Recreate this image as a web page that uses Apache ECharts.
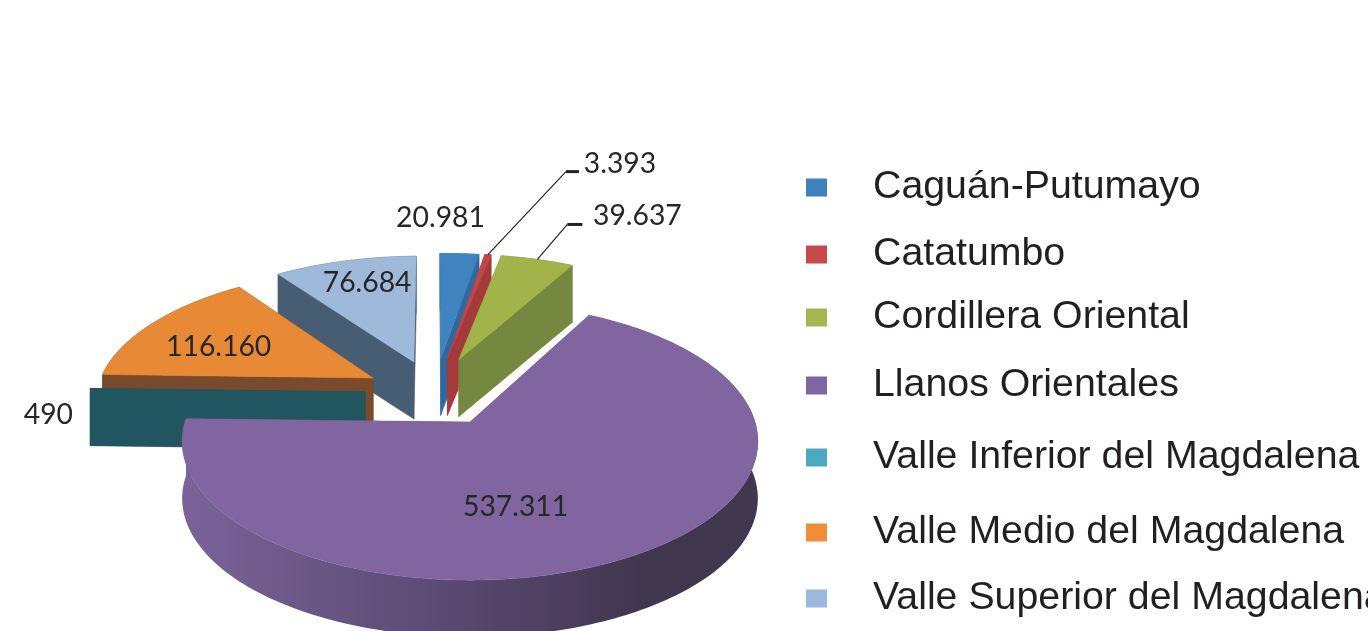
<!DOCTYPE html>
<html>
<head>
<meta charset="utf-8">
<style>
  html, body { margin: 0; padding: 0; background: #fff; overflow: hidden; }
  #chart { width: 1368px; height: 631px; }
</style>
</head>
<body>
<div id="chart"></div>
<script src="https://cdn.jsdelivr.net/npm/echarts@6/dist/echarts.min.js"></script>
<script>
// datos
const basins = ['Caguán-Putumayo', 'Catatumbo', 'Cordillera Oriental', 'Llanos Orientales',
  'Valle Inferior del Magdalena', 'Valle Medio del Magdalena', 'Valle Superior del Magdalena'];
const reserves = [20981, 3393, 39637, 537311, 490, 116160, 76684];
const valueLabels = ['20.981', '3.393', '39.637', '537.311', '490', '116.160', '76.684'];

// colores: cara superior y pared lateral
const topColors = ['#3f84bf', '#c0464a', '#a2b34a', '#8065a0', '#215660', '#e88a35', '#9fb9da'];
const wallColors = ['#2f6a9e', '#a53a3c', '#76873f', null, '#215660', '#7a4a2c', '#475d73'];
const legendColors = ['#3e81bd', '#c64a4a', '#a5b550', '#7d66a2', '#4aabc0', '#ef8e38', '#9ab9dc'];

// separacion de cada porcion en unidades del radio
const explode = [[-0.11, 0.5], [-0.085, 0.5], [-0.042, 0.49], [0, 0], [-0.38, 0.228], [-0.356, 0.339], [-0.21, 0.47]];
// desplazamiento de la etiqueta respecto al punto medio del arco
const labelOffset = [[-19, -36], [132, -91], [100, -44], [-118, -49], [-42, 26], [66, 24], [22, 22]];
// guias: [dx, dy] del codo y largo del tramo grueso
const leaders = { 1: [[78, -83], 13], 2: [[30, -35], 15] };
// orden de dibujo, de atras hacia adelante
const drawOrder = [6, 5, 4, 0, 1, 2, 3];
const legendCenters = [186, 253, 316, 384, 456, 531, 597];

const cx = 470, cy = 422, R = 285, Ry = 136, depth = 0.14, H = 57;
const firstAngle = -0.0175;
const total = reserves.reduce((a, b) => a + b, 0);

function sliceAngles(i) {
  let start = 0;
  for (let k = 0; k < i; k++) start += reserves[k];
  return [firstAngle + start / total * Math.PI * 2, firstAngle + (start + reserves[i]) / total * Math.PI * 2];
}

// proyeccion con perspectiva del disco
function project(x, y, drop) {
  const w = 1 + depth * y;
  return [cx + R * x / w, cy - Ry * y / w + (drop || 0)];
}

function arcPoints(i, a0, a1, drop, rev) {
  const n = Math.max(2, Math.ceil((a1 - a0) / 0.02));
  const pts = [];
  for (let k = 0; k <= n; k++) {
    const a = a0 + (a1 - a0) * k / n;
    pts.push(project(Math.sin(a) + explode[i][0], Math.cos(a) + explode[i][1], drop));
  }
  return rev ? pts.reverse() : pts;
}

function renderSlice(i) {
  const [a0, a1] = sliceAngles(i);
  const apex = project(explode[i][0], explode[i][1], 0);
  const apexLow = project(explode[i][0], explode[i][1], H);
  const arcTop = arcPoints(i, a0, a1, 0);
  const arcLow = arcPoints(i, a0, a1, H, true);
  const wall = wallColors[i] || new echarts.graphic.LinearGradient(0, 0, 1, 0, [
    { offset: 0, color: '#7b6399' },
    { offset: 0.45, color: '#5a4a72' },
    { offset: 0.8, color: '#40374f' },
    { offset: 1, color: '#413850' }
  ]);
  const poly = (points, fill) => ({
    type: 'polygon',
    shape: { points: points },
    style: { fill: fill, stroke: typeof fill === 'string' ? fill : null, lineWidth: 0.5 }
  });
  const children = [
    poly([apex, arcTop[0], arcLow[arcLow.length - 1], apexLow], wall),
    poly([apex, arcTop[arcTop.length - 1], arcLow[0], apexLow], wall),
    poly(arcTop.concat(arcLow), wall),
    poly([apex].concat(arcTop), topColors[i])
  ];

  const mid = arcPoints(i, (a0 + a1) / 2, (a0 + a1) / 2 + 0.0001, 0)[0];
  if (leaders[i]) {
    const elbow = [mid[0] + leaders[i][0][0], mid[1] + leaders[i][0][1]];
    const end = [elbow[0] + leaders[i][1], elbow[1]];
    children.push({ type: 'polyline', shape: { points: [mid, elbow] }, style: { stroke: '#222', lineWidth: 1.2, fill: null } });
    children.push({ type: 'polyline', shape: { points: [elbow, end] }, style: { stroke: '#222', lineWidth: 3, fill: null } });
  }
  children.push({
    type: 'text',
    z2: 10,
    style: {
      text: valueLabels[i],
      x: mid[0] + labelOffset[i][0],
      y: mid[1] + labelOffset[i][1],
      align: 'center',
      verticalAlign: 'middle',
      font: '28.3px Lato',
      fill: '#262626'
    }
  });
  return { type: 'group', children: children };
}

const series = drawOrder.map(i => ({
  name: basins[i],
  type: 'custom',
  coordinateSystem: 'none',
  silent: true,
  animation: false,
  itemStyle: { color: legendColors[i] },
  data: [reserves[i]],
  renderItem: () => renderSlice(i)
}));

const legends = basins.map((name, i) => ({
  data: [name],
  left: 806,
  top: legendCenters[i] - 18,
  padding: 0,
  icon: 'rect',
  itemWidth: 21,
  itemHeight: 18,
  selectedMode: false,
  textStyle: {
    fontFamily: 'Liberation Sans',
    fontSize: 39.3,
    color: '#231f20',
    padding: [0, 0, 0, 41]
  }
}));

const chart = echarts.init(document.getElementById('chart'), null, { renderer: 'canvas' });
chart.setOption({
  backgroundColor: '#fff',
  animation: false,
  legend: legends,
  series: series
});
</script>
</body>
</html>
